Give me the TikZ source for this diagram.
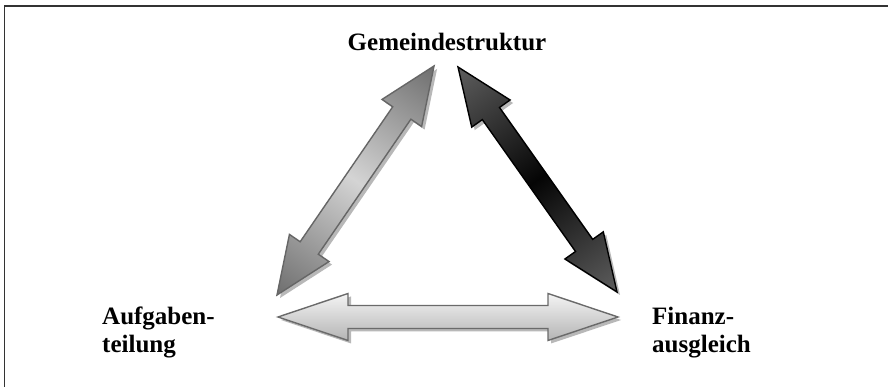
\documentclass[tikz,border=0pt]{standalone}
\usepackage{fontspec}
\setmainfont{Liberation Serif}
\usetikzlibrary{calc}
\definecolor{framec}{HTML}{333333}
\definecolor{shadowc}{HTML}{B8B8B8}
\definecolor{lgEnd}{HTML}{6E6E6E}
\definecolor{lgMid}{HTML}{D4D4D4}
\definecolor{lgLine}{HTML}{666666}
\definecolor{dkEnd}{HTML}{5E5E5E}
\definecolor{dkMid}{HTML}{050505}
\definecolor{btTop}{HTML}{F4F4F4}
\definecolor{btBot}{HTML}{B4B4B4}
\definecolor{btLine}{HTML}{6A6A6A}
\tikzset{
  lab/.style={font=\bfseries\fontsize{25}{28}\selectfont, inner sep=0pt, text=black},
  framestyle/.style={draw=framec, line width=1.8pt},
  shadowstyle/.style={fill=shadowc},
  lightarrow/.style={left color=lgEnd, right color=lgEnd, middle color=lgMid, draw=lgLine, line width=1.4pt},
  darkarrow/.style={left color=dkEnd, right color=dkEnd, middle color=dkMid, draw=black, line width=1.4pt},
  flatarrow/.style={top color=btTop, bottom color=btBot, draw=btLine, line width=1.4pt}
}
% #1 tip coordinate, #2 angle, #3 length, #4 head length, #5 head half width, #6 shaft half width, #7 style
\newcommand{\blockarrow}[7]{%
  \begin{scope}[transform canvas={shift={(#1)},rotate=#2}]
    \path[#7] (0,0) -- (#4,#5) -- (#4,#6) -- ({#3-#4},#6) -- ({#3-#4},#5) -- (#3,0)
      -- ({#3-#4},-#5) -- ({#3-#4},-#6) -- (#4,-#6) -- (#4,-#5) -- cycle;
  \end{scope}}
\begin{document}
\begin{tikzpicture}[x=1pt,y=1pt]
\useasboundingbox (0,0) rectangle (888,387);
\fill[white] (0,0) rectangle (888,387);
% frame (top and left edges)
\draw[framestyle] (4.5,0) -- (4.5,381) -- (888,381);
% text nodes
\node[lab, anchor=base] (gem) at (447,336) {Gemeindestruktur};
\node[lab, anchor=north west, align=left] (auf) at (102,80) {Aufgaben-\\teilung};
\node[lab, anchor=north west, align=left] (fin) at (652,80) {Finanz-\\ausgleich};
% arrow end points
\coordinate (lb) at (277,92);
\coordinate (lt) at (434,321);
\coordinate (rt) at (458,320);
\coordinate (rb) at (617,95);
\coordinate (bl) at (278,70);
\coordinate (br) at (618,70);
\coordinate (lbs) at ($(lb)+(3,-3)$);
\coordinate (rts) at ($(rt)+(3,-3)$);
\coordinate (bls) at ($(bl)+(3,-3)$);
% shadows
\blockarrow{lbs}{55.56}{277.7}{57}{24}{11}{shadowstyle}
\blockarrow{rts}{-54.75}{275.5}{57}{23.5}{10.5}{shadowstyle}
\blockarrow{bls}{0}{340}{70}{23.5}{11.5}{shadowstyle}
% arrows
\blockarrow{lb}{55.56}{277.7}{57}{24}{11}{lightarrow}
\blockarrow{rt}{-54.75}{275.5}{57}{23.5}{10.5}{darkarrow}
\blockarrow{bl}{0}{340}{70}{23.5}{11.5}{flatarrow}
\end{tikzpicture}
\end{document}
